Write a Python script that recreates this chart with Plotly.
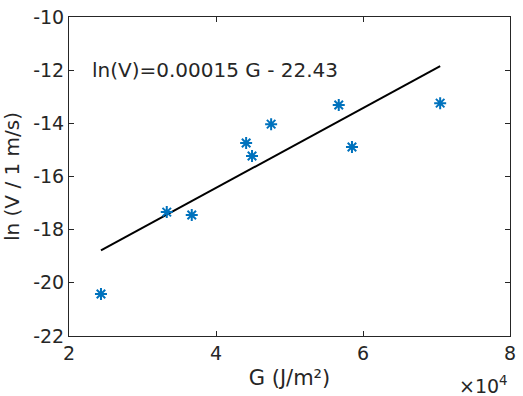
import plotly.graph_objects as go

# measured points
G = [24350, 33300, 36700, 44100, 44900, 47500, 56700, 58500, 70500]
lnV = [-20.42, -17.34, -17.45, -14.74, -15.23, -14.03, -13.31, -14.89, -13.24]

# fitted line ln(V) = 0.00015 G - 22.43, end points
fit_G = [24350, 70500]
fit_lnV = [-18.78, -11.85]

xticks = [20000, 40000, 60000, 80000]
xtick_text = ["2", "4", "6", "8"]
yticks = [-22, -20, -18, -16, -14, -12, -10]
ytick_text = ["-22", "-20", "-18", "-16", "-14", "-12", "-10"]

font = "DejaVu Sans, Liberation Sans, sans-serif"
blue = "#0072BD"
dark = "#262626"

fig = go.Figure()
fig.add_trace(go.Scatter(x=fit_G, y=fit_lnV, mode="lines",
                         line=dict(color="black", width=2), showlegend=False))
fig.add_trace(go.Scatter(x=G, y=lnV, mode="markers",
                         marker=dict(symbol="asterisk-open", size=10, color=blue,
                                     line=dict(color=blue, width=2)),
                         showlegend=False))

fig.add_annotation(x=22900, y=-12, xref="x", yref="y", xanchor="left", yanchor="middle",
                   text="ln(V)=0.00015 G - 22.43", showarrow=False,
                   font=dict(family=font, size=20, color=dark))
fig.add_annotation(x=1.0, y=-0.198, xref="paper", yref="paper", xanchor="right", yanchor="bottom",
                   text="×10<sup>4</sup>", showarrow=False,
                   font=dict(family=font, size=19, color=dark))

axis = dict(showgrid=False, zeroline=False, showline=True, linecolor=dark, linewidth=1,
            mirror="ticks", ticks="inside", ticklen=5, tickcolor=dark, automargin=False,
            tickfont=dict(family=font, size=19, color=dark))

fig.update_xaxes(range=[20000, 80000], tickvals=xticks, ticktext=xtick_text,
                 title=dict(text="G (J/m²)", font=dict(family=font, size=21, color=dark),
                            standoff=7), **axis)
fig.update_yaxes(range=[-22, -10], tickvals=yticks, ticktext=ytick_text,
                 title=dict(text="ln (V / 1 m/s)", font=dict(family=font, size=20, color=dark),
                            standoff=9), **axis)

fig.update_layout(width=523, height=396, plot_bgcolor="white", paper_bgcolor="white",
                  margin=dict(l=69, r=13, t=17, b=60))

fig.write_html("out.html", post_script="document.body.style.margin='0';",
               config={"displayModeBar": False})
